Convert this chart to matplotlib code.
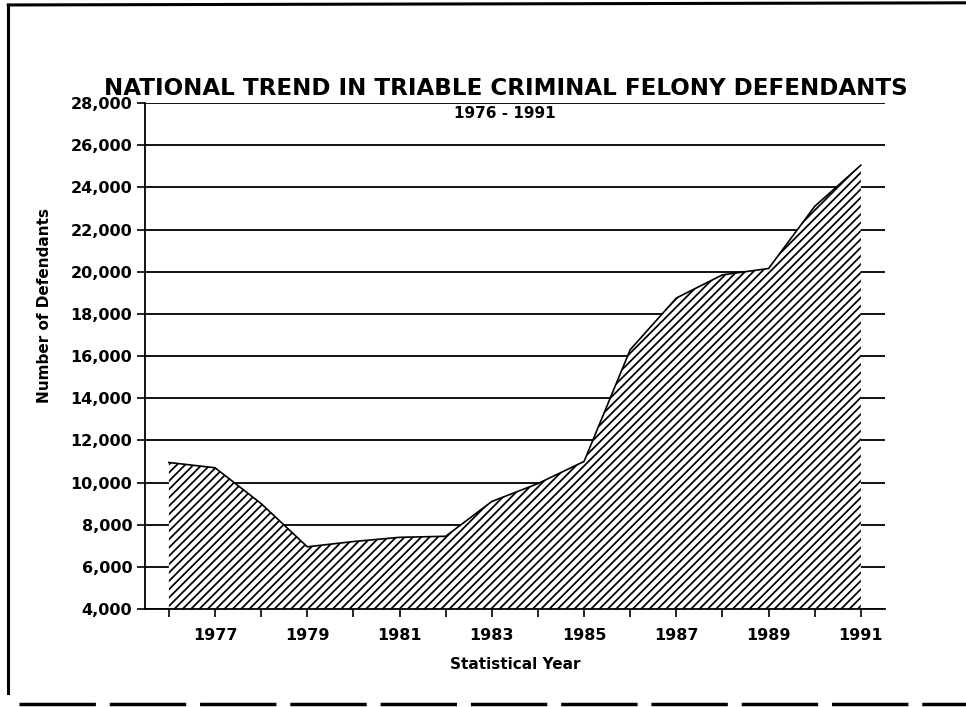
import matplotlib.pyplot as plt
from matplotlib.lines import Line2D

# values
years = [1976, 1977, 1978, 1979, 1980, 1981, 1982, 1983,
         1984, 1985, 1986, 1987, 1988, 1989, 1990, 1991]
defendants = [10950, 10700, 9000, 6950, 7200, 7400, 7450, 9100,
              9950, 11000, 16300, 18750, 19850, 20150, 23100, 25050]
y_ticks = list(range(4000, 28001, 2000))
year_labels = [str(y) if y % 2 == 1 else "" for y in years]

plt.rcParams['font.family'] = 'DejaVu Sans'
plt.rcParams['font.weight'] = 'bold'
plt.rcParams['hatch.linewidth'] = 1.25

fig = plt.figure(figsize=(9.66, 7.07), dpi=100)
ax = fig.add_axes([0.150, 0.1386, 0.766, 0.7157])

# horizontal grid lines at every tick
for v in y_ticks:
    ax.axhline(v, color='black', lw=1.3, zorder=1)

ax.fill_between(years, 4000, defendants, facecolor='white',
                edgecolor='black', hatch='////', lw=0, zorder=2)
ax.plot(years, defendants, color='black', lw=1.2, zorder=3)

ax.set_xlim(1975.48, 1991.52)
ax.set_ylim(4000, 28000)
ax.set_yticks(y_ticks)
ax.set_yticklabels([f"{v:,}" for v in y_ticks], fontsize=11.5, fontweight='bold')
ax.set_xticks(years)
ax.set_xticklabels(year_labels, fontsize=11.5, fontweight='bold')
ax.tick_params(axis='both', direction='out', length=6, width=1.2, color='black')
ax.tick_params(axis='x', pad=8)
ax.tick_params(axis='y', pad=3)
for s in ['top', 'right']:
    ax.spines[s].set_visible(False)
ax.spines['left'].set_linewidth(1.3)
ax.spines['bottom'].set_linewidth(1.3)

ax.set_ylabel("Number of Defendants", fontsize=11, fontweight='bold')
ax.yaxis.set_label_coords(-0.125, 0.6)
ax.set_xlabel("Statistical Year", fontsize=11, fontweight='bold', labelpad=10)

fig.text(0.524, 0.875, "NATIONAL TREND IN TRIABLE CRIMINAL FELONY DEFENDANTS",
         ha='center', va='center', fontsize=16.6, fontweight='bold')
fig.text(0.523, 0.840, "1976 - 1991", ha='center', va='center',
         fontsize=11, fontweight='bold')

# page border from the scan
fig.add_artist(Line2D([0.0085, 0.0085], [0.02, 0.993], color='black', lw=2.2,
                      transform=fig.transFigure))
fig.add_artist(Line2D([0.0085, 1.0], [0.993, 0.996], color='black', lw=2.2,
                      transform=fig.transFigure))
fig.add_artist(Line2D([0.02, 1.0], [0.004, 0.004], color='black', lw=2.5,
                      linestyle=(0, (22, 4)), transform=fig.transFigure))

fig.savefig("out.png", dpi=100)
